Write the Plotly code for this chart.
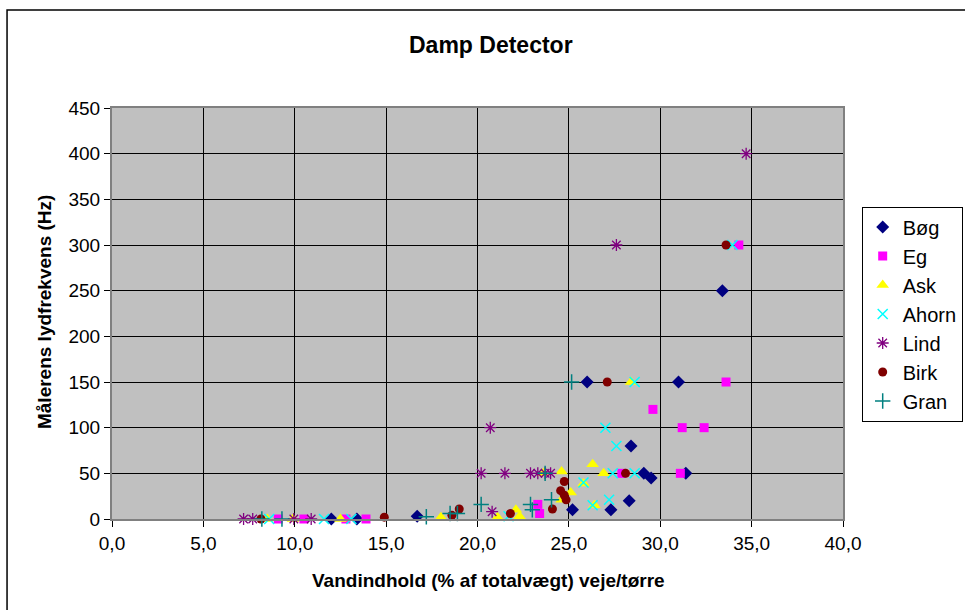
import plotly.graph_objects as go

# ---- data ----
bog_x = [12.0, 13.4, 16.7, 25.2, 27.3, 28.3, 29.1, 29.5, 31.4, 28.4, 26.0, 31.0, 33.4]
bog_y = [0, 0, 3, 10, 10, 20, 50, 45, 50, 80, 150, 150, 250]

eg_x = [9.1, 10.5, 12.8, 13.9, 23.3, 23.4, 27.9, 31.1, 29.6, 31.2, 32.4, 33.6, 34.3]
eg_y = [0, 0, 0, 0, 16, 6, 50, 50, 120, 100, 100, 150, 300]

ask_x = [8.5, 9.9, 12.5, 18.0, 21.1, 22.1, 22.3, 23.6, 24.6, 24.6, 25.1, 25.8, 26.3, 26.9, 26.4, 28.4]
ask_y = [0, 0, 0, 2, 2, 10, 3, 50, 52, 21, 29, 39, 60, 50, 15, 150]

ahorn_x = [8.6, 11.6, 13.1, 21.7, 25.8, 26.3, 27.2, 27.0, 27.6, 27.4, 28.6, 28.6, 33.95]
ahorn_y = [0, 0, 0, 3, 40, 15, 21, 100, 80, 50, 50, 150, 300]

lind_x = [7.2, 7.7, 9.95, 10.9, 20.2, 21.5, 20.7, 20.8, 22.9, 23.3, 23.7, 24.0, 27.6, 34.7]
lind_y = [0, 0, 0, 0, 50, 50, 100, 8, 50, 50, 50, 50, 300, 400]

birk_x = [8.15, 14.9, 18.6, 19.0, 21.8, 24.1, 24.55, 24.75, 24.75, 24.85, 27.1, 28.1, 33.6]
birk_y = [0, 2, 4, 11, 6, 11, 31, 41, 26, 21, 150, 50, 300]

gran_x = [8.2, 9.3, 17.2, 18.5, 18.9, 20.2, 22.9, 23.0, 23.7, 24.05, 25.15]
gran_y = [0, 0, 2.5, 6, 6, 16, 16, 10, 50, 21, 150]

x_tickvals = [0, 5, 10, 15, 20, 25, 30, 35, 40]
x_ticktext = ["0,0", "5,0", "10,0", "15,0", "20,0", "25,0", "30,0", "35,0", "40,0"]
y_tickvals = [0, 50, 100, 150, 200, 250, 300, 350, 400, 450]

FONT = "Liberation Sans, Arial, sans-serif"

series = [
    ("Bøg", bog_x, bog_y, "diamond", "#000080", 10, 0),
    ("Eg", eg_x, eg_y, "square", "#FF00FF", 9, 0),
    ("Ask", ask_x, ask_y, "triangle-up", "#FFFF00", 11, 0),
    ("Ahorn", ahorn_x, ahorn_y, "x-thin-open", "#00FFFF", 10, 1.5),
    ("Lind", lind_x, lind_y, "asterisk-open", "#800080", 10, 1.3),
    ("Birk", birk_x, birk_y, "circle", "#800000", 9, 0),
    ("Gran", gran_x, gran_y, "cross-thin-open", "#008080", 11, 1.5),
]

fig = go.Figure()
for name, xs, ys, sym, col, size, lw in series:
    fig.add_trace(go.Scatter(
        x=xs, y=ys, mode="markers", name=name, cliponaxis=False,
        marker=dict(symbol=sym, color=col, size=size,
                    line=dict(color=col, width=lw)),
    ))

W, H = 965, 610
L, R, T, B = 112, 843.3, 108, 519
pw, ph = R - L, B - T

def px2paper_x(px):
    return (px - L) / pw

def px2paper_y(py):
    return (B - py) / ph

fig.update_layout(
    width=W, height=H,
    margin=dict(l=L, r=W - R, t=T, b=H - B, autoexpand=False),
    paper_bgcolor="white",
    plot_bgcolor="#C0C0C0",
    font=dict(family=FONT, size=19, color="black"),
    showlegend=True,
    legend=dict(
        x=px2paper_x(862), xanchor="left",
        y=px2paper_y(314), yanchor="middle",
        bgcolor="white", bordercolor="black", borderwidth=1,
        font=dict(family=FONT, size=20, color="black"),
        itemsizing="trace",
    ),
    xaxis=dict(
        range=[0, 40], tickvals=x_tickvals, ticktext=x_ticktext,
        showgrid=True, gridcolor="black", gridwidth=1,
        zeroline=False, showline=True, linecolor="#808080", linewidth=2,
        mirror=True, ticks="outside", ticklen=6, tickcolor="black",
        tickfont=dict(family=FONT, size=19, color="black"),
    ),
    yaxis=dict(
        range=[0, 450], tickvals=y_tickvals,
        showgrid=True, gridcolor="black", gridwidth=1,
        zeroline=False, showline=True, linecolor="#808080", linewidth=2,
        mirror=True, ticks="outside", ticklen=6, tickcolor="black",
        tickfont=dict(family=FONT, size=19, color="black"),
    ),
    annotations=[
        dict(text="<b>Damp Detector</b>", xref="paper", yref="paper",
             x=px2paper_x(491), y=px2paper_y(45), xanchor="center", yanchor="middle",
             showarrow=False, font=dict(family=FONT, size=23, color="black")),
        dict(text="<b>Vandindhold (% af totalvægt) veje/tørre</b>", xref="paper", yref="paper",
             x=px2paper_x(489), y=px2paper_y(580), xanchor="center", yanchor="middle",
             showarrow=False, font=dict(family=FONT, size=19, color="black")),
        dict(text="<b>Målerens lydfrekvens (Hz)</b>", xref="paper", yref="paper",
             x=px2paper_x(44), y=px2paper_y(312), xanchor="center", yanchor="middle",
             textangle=-90, showarrow=False, font=dict(family=FONT, size=19, color="black")),
    ],
    shapes=[
        dict(type="rect", xref="paper", yref="paper",
             x0=px2paper_x(7), x1=px2paper_x(990),
             y0=px2paper_y(640), y1=px2paper_y(10),
             line=dict(color="black", width=1.5), fillcolor="rgba(0,0,0,0)", layer="below"),
    ],
)

fig.write_html("out.html")
